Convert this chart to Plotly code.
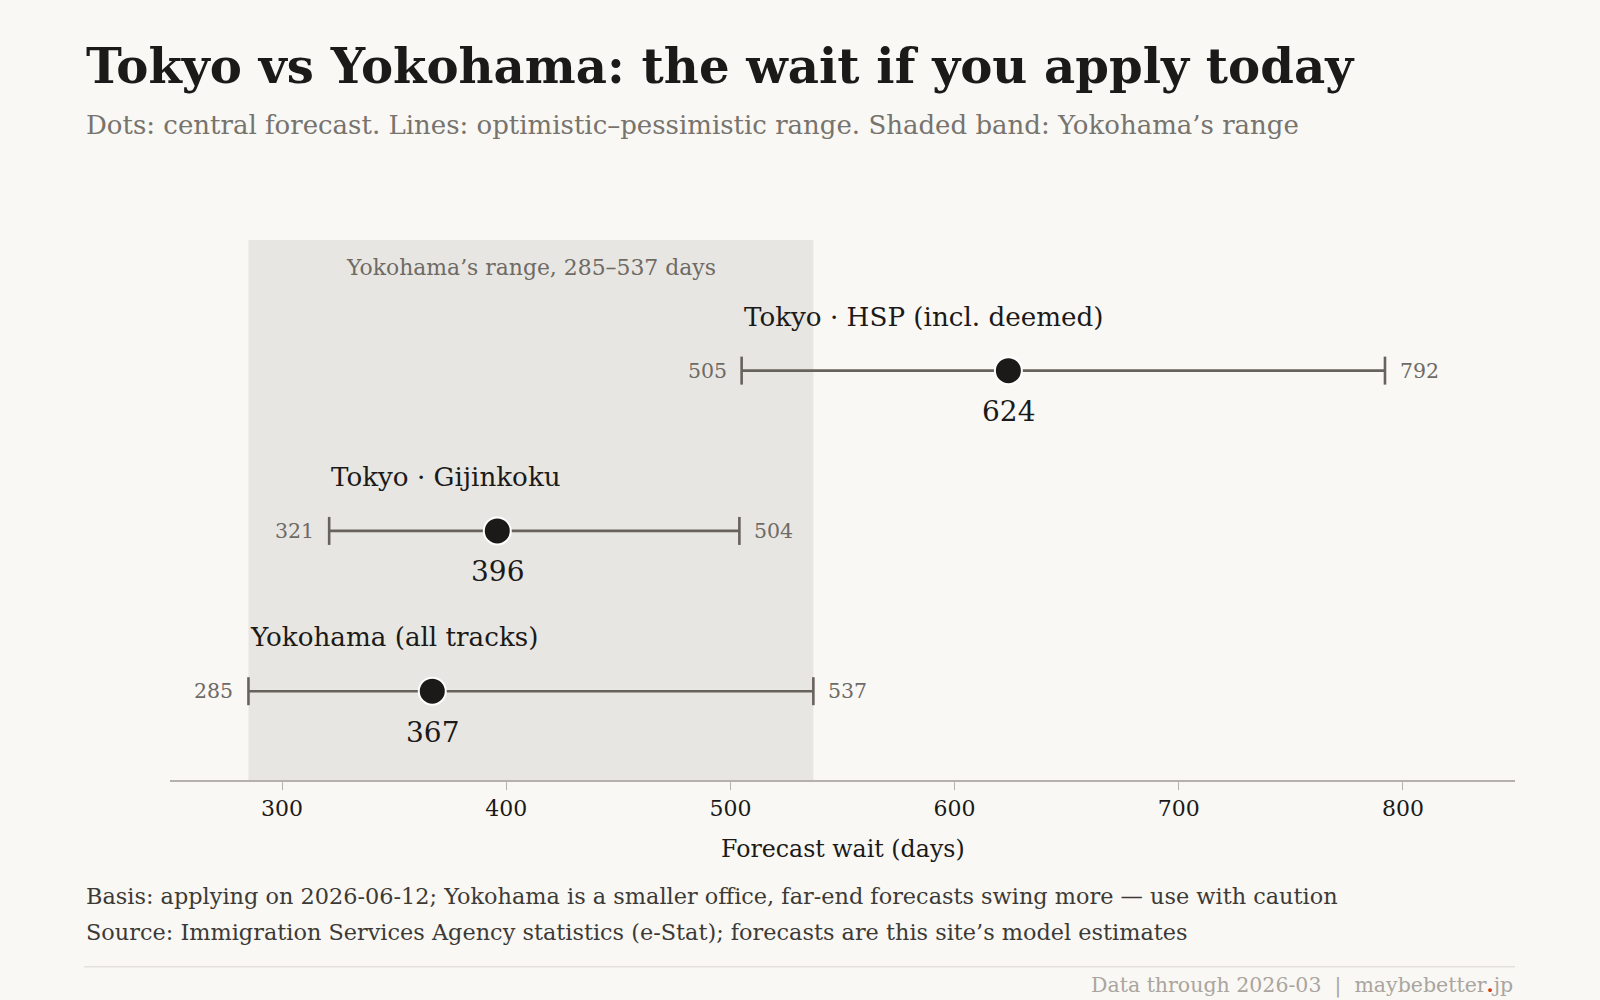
import plotly.graph_objects as go

# ---- data ----
categories = ["Yokohama (all tracks)", "Tokyo · Gijinkoku", "Tokyo · HSP (incl. deemed)"]
low_days = [285, 321, 505]
central_days = [367, 396, 624]
high_days = [537, 504, 792]
band_low, band_high = 285, 537
x_ticks = [300, 400, 500, 600, 700, 800]

FONT = "DejaVu Serif"
BG = "#f9f8f5"
DARK = "#1b1a18"
GRAY = "#6e6a64"
LINE = "#67625c"

S = 1600 / 1568  # reference measured at 1568-wide scale
L, R, T, B = 167 * S, 1485 * S, 235 * S, 764 * S
W, H = R - L, B - T
def px(x):
    return (x * S - L) / W
def py(y):
    return (B - y * S) / H

fig = go.Figure()

fig.add_shape(type="rect", xref="x", yref="paper", x0=band_low, x1=band_high, y0=0, y1=1,
              fillcolor="#e8e6e2", line_width=0, layer="below")

ys = list(range(len(categories)))
for i, cat in enumerate(categories):
    fig.add_trace(go.Scatter(x=[low_days[i], high_days[i]], y=[ys[i], ys[i]], mode="lines+markers",
                             line=dict(color=LINE, width=2.6),
                             marker=dict(symbol="line-ns", size=20, line=dict(color=LINE, width=2.6)),
                             hoverinfo="skip", showlegend=False))
    fig.add_trace(go.Scatter(x=[central_days[i]], y=[ys[i]], mode="markers",
                             marker=dict(size=27, color=DARK, line=dict(color="white", width=2)),
                             showlegend=False, name=cat))
    fig.add_annotation(x=low_days[i], y=ys[i], text=cat, showarrow=False, xanchor="left",
                       yanchor="middle", yshift=54, font=dict(family=FONT, size=26.2, color=DARK))
    fig.add_annotation(x=low_days[i], y=ys[i], text=str(low_days[i]), showarrow=False, xanchor="right",
                       yanchor="middle", xshift=-13, font=dict(family=FONT, size=20.5, color=GRAY))
    fig.add_annotation(x=high_days[i], y=ys[i], text=str(high_days[i]), showarrow=False, xanchor="left",
                       yanchor="middle", xshift=13, font=dict(family=FONT, size=20.5, color=GRAY))
    fig.add_annotation(x=central_days[i], y=ys[i], text=str(central_days[i]), showarrow=False,
                       xanchor="center", yanchor="middle", yshift=-41,
                       font=dict(family=FONT, size=28, color=DARK))

fig.add_annotation(x=(band_low + band_high) / 2, xref="x", y=py(262), yref="paper",
                   text="Yokohama’s range, 285–537 days", showarrow=False, yanchor="middle",
                   font=dict(family=FONT, size=21.9, color=GRAY))

# titles
fig.add_annotation(x=px(83), y=py(65), xref="paper", yref="paper", xanchor="left", yanchor="middle",
                   text="<b>Tokyo vs Yokohama: the wait if you apply today</b>", showarrow=False,
                   font=dict(family=FONT, size=48.2, color=DARK))
fig.add_annotation(x=px(83), y=py(122), xref="paper", yref="paper", xanchor="left", yanchor="middle",
                   text="Dots: central forecast. Lines: optimistic–pessimistic range. Shaded band: Yokohama’s range",
                   showarrow=False, font=dict(family=FONT, size=26, color="#77736d"))
fig.add_annotation(x=0.5, y=py(832), xref="paper", yref="paper", xanchor="center", yanchor="middle",
                   text="Forecast wait (days)", showarrow=False, font=dict(family=FONT, size=23.7, color=DARK))
fig.add_annotation(x=px(83), y=py(878), xref="paper", yref="paper", xanchor="left", yanchor="middle",
                   text="Basis: applying on 2026-06-12; Yokohama is a smaller office, far-end forecasts swing more — use with caution",
                   showarrow=False, font=dict(family=FONT, size=22.4, color="#3d3a36"))
fig.add_annotation(x=px(83), y=py(913), xref="paper", yref="paper", xanchor="left", yanchor="middle",
                   text="Source: Immigration Services Agency statistics (e-Stat); forecasts are this site’s model estimates",
                   showarrow=False, font=dict(family=FONT, size=22.4, color="#3d3a36"))
fig.add_shape(type="line", xref="paper", yref="paper", x0=px(83), x1=px(1485), y0=py(947), y1=py(947),
              line=dict(color="#e4e1dc", width=1.5))
fig.add_annotation(x=1.0, y=py(965), xref="paper", yref="paper", xanchor="right", yanchor="middle",
                   text="Data through 2026-03  |  maybebetter<b><span style='color:#c8402a'>.</span></b>jp",
                   showarrow=False, font=dict(family=FONT, size=20.5, color="#aaa59e"))

fig.update_layout(
    width=1600, height=1000,
    paper_bgcolor=BG, plot_bgcolor=BG,
    margin=dict(l=L, r=1600 - R, t=T, b=1000 - B),
    xaxis=dict(range=[250, 850], tickvals=x_ticks, ticks="outside", ticklen=8, tickcolor="#b5b1ab",
               showline=True, linecolor="#b5b1ab", linewidth=1.5, showgrid=False, zeroline=False,
               tickfont=dict(family=FONT, size=22, color=DARK)),
    yaxis=dict(range=[-0.554, 2.815], visible=False, showgrid=False, zeroline=False),
    font=dict(family=FONT),
)

fig.write_html("out.html", config={"displayModeBar": False},
               post_script="document.body.style.margin='0px';document.body.style.background='%s';" % BG)
